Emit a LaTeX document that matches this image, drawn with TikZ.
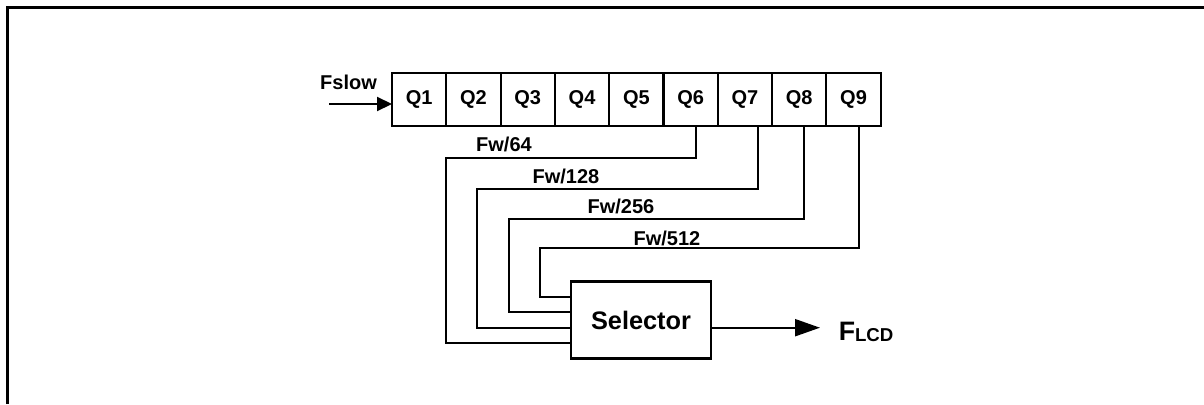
\documentclass[tikz,border=0pt]{standalone}
\usepackage{fontspec}
\setmainfont{Liberation Sans}
\usetikzlibrary{arrows.meta}

\begin{document}
\begin{tikzpicture}[x=0.75pt, y=-0.75pt, node distance=40.725pt, line width=1.6pt,
    cell/.style={rectangle, draw, minimum width=40.725pt, minimum height=39.75pt,
        inner sep=0pt, outer sep=0pt, font=\fontsize{15}{18}\selectfont\bfseries},
    lbl/.style={anchor=base, inner sep=0pt, font=\fontsize{15}{18}\selectfont\bfseries},
    selbox/.style={rectangle, draw, minimum width=105pt, minimum height=57.75pt,
        inner sep=0pt, outer sep=0pt, font=\fontsize{19}{22}\selectfont\bfseries}]
    \useasboundingbox (0,0) rectangle (1204,404);

    % Frame
    \draw[line width=1.8pt] (7.3,404) -- (7.3,7.3) -- (1204,7.3);

    % Register
    \node (q1) [cell] at (419.15,99.2) {Q1};
    \foreach \i [count=\j from 2] in {1,...,8}
        \node (q\j) [cell, right of=q\i] {Q\j};

    % Input
    \node (fslow) [lbl] at (348.5,89.3) {Fslow};
    \coordinate (fin) at (329,104);
    \draw[-{Triangle[length=11.25pt,width=10.5pt]}] (fin) -- (fin -| q1.west);

    % Selector
    \node (sel) [selbox] at (641,320) {Selector};

    % Taps
    \foreach \q/\dx/\y/\x/\s in {6/3.75/157.7/446/-17.25, 7/9.5/189/477.3/-5.75,
                                8/3.75/219.3/509/5.75, 9/4.3/248.3/540/17.25}
        \draw ([xshift=\dx pt]q\q.south) |- (\x,\y) |- ([yshift=\s pt]sel.west);
    \node (f64) [lbl] at (504,151.7) {Fw/64};
    \node (f128) [lbl] at (566,183.3) {Fw/128};
    \node (f256) [lbl] at (621,213.3) {Fw/256};
    \node (f512) [lbl] at (667,245) {Fw/512};

    % Output
    \node (flcd) [anchor=base west, inner sep=0pt, font=\fontsize{20}{24}\selectfont\bfseries]
        at (837.7,340) {F\raisebox{-1pt}{\fontsize{14}{16}\selectfont LCD}};
    \coordinate (fout) at (820,327.7);
    \draw[-{Triangle[length=18.75pt,width=12.75pt]}] (fout -| sel.east) -- (fout);
\end{tikzpicture}
\end{document}
